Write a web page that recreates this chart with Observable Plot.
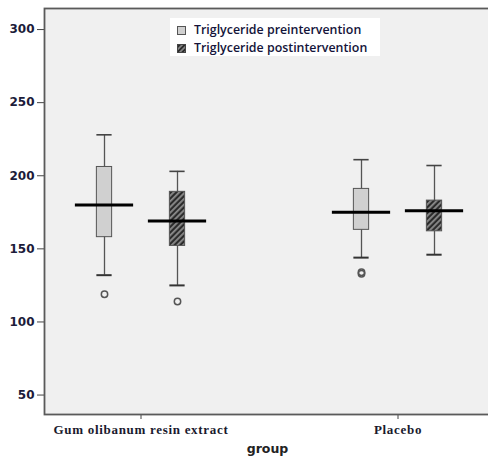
<!DOCTYPE html>
<html>
<head>
<meta charset="utf-8">
<script src="https://cdn.jsdelivr.net/npm/d3@7"></script>
<script src="https://cdn.jsdelivr.net/npm/@observablehq/plot@0.6"></script>
<style>
  html, body { margin: 0; padding: 0; background: #fff; overflow: hidden; }
  #wrap { position: relative; width: 488px; height: 460px; }
  #chart svg { display: block; overflow: hidden; }
  #chart [aria-label="x-axis tick label"] text { letter-spacing: 0.7px; }
  #legend { position: absolute; left: 170px; top: 18px; width: 210px; height: 38px; background: #fff;
            font-family: "Open Sans", sans-serif; font-size: 12.4px; font-weight: 600; color: #14143a; }
  .item { position: absolute; left: 7px; height: 14px; line-height: 14px; white-space: nowrap; }
  .item svg { position: absolute; left: 0; top: 3px; }
  .item span { position: absolute; left: 17px; top: 0; }
</style>
</head>
<body>
<div id="wrap">
  <div id="chart"></div>
  <div id="legend">
    <div class="item" style="top:5px">
      <svg width="9" height="9"><rect x="0.5" y="0.5" width="8" height="8" fill="#d0d0d0" stroke="#555"/></svg>
      <span>Triglyceride preintervention</span>
    </div>
    <div class="item" style="top:23px">
      <svg width="9" height="9">
        <defs><pattern id="hatchL" width="3.5" height="3.5" patternUnits="userSpaceOnUse" patternTransform="rotate(45)">
          <rect width="3.5" height="3.5" fill="#2b2b2b"/><rect width="1.6" height="3.5" fill="#8c8c8c"/></pattern></defs>
        <rect x="0.5" y="0.5" width="8" height="8" fill="url(#hatchL)" stroke="#444"/></svg>
      <span>Triglyceride postintervention</span>
    </div>
  </div>
</div>
<script>
// ---- data ----
const groups = ["Gum olibanum resin extract", "Placebo"];
const phases = ["Triglyceride preintervention", "Triglyceride postintervention"];

const preLow    = [132, 144];
const preQ1     = [158, 163];
const preMedian = [180, 175];
const preQ3     = [206, 191];
const preHigh   = [228, 211];

const postLow    = [125, 146];
const postQ1     = [152, 162];
const postMedian = [169, 176];
const postQ3     = [189, 183];
const postHigh   = [203, 207];

const outlierGroup = ["Gum olibanum resin extract", "Gum olibanum resin extract", "Placebo", "Placebo"];
const outlierPhase = ["Triglyceride preintervention", "Triglyceride postintervention", "Triglyceride preintervention", "Triglyceride preintervention"];
const outlierValue = [119, 114, 133, 134];

const yTicks = [50, 100, 150, 200, 250, 300];

// ---- tables ----
const stats = {
  [phases[0]]: groups.map((g, i) => ({group: g, lo: preLow[i], q1: preQ1[i], med: preMedian[i], q3: preQ3[i], hi: preHigh[i]})),
  [phases[1]]: groups.map((g, i) => ({group: g, lo: postLow[i], q1: postQ1[i], med: postMedian[i], q3: postQ3[i], hi: postHigh[i]}))
};
const outliers = outlierValue.map((v, i) => ({group: outlierGroup[i], phase: outlierPhase[i], value: v}));

// ---- styles ----
const offset = {[phases[0]]: -36.5, [phases[1]]: 36.5};
const fills = {[phases[0]]: "#d0d0d0", [phases[1]]: "url(#hatch)"};
const bw = 128.75;            // band width given the padding below
const boxInset = (bw - 15) / 2;
const medInset = (bw - 58) / 2;

const marks = [
  Plot.frame({fill: "#f0f0f0"}),
  Plot.axisY({ticks: yTicks, tickSize: 7, tickPadding: 3, stroke: "#444",
              fontFamily: "DejaVu Sans", fontWeight: "bold", fontSize: 12, fill: "#1c1c3a", label: null}),
  Plot.axisX({tickSize: 5, tickPadding: 5, stroke: "#444",
              fontFamily: "Liberation Serif", fontWeight: "bold", fontSize: 13, fill: "#1a1a2e", label: null}),
  Plot.text(["group"], {frameAnchor: "bottom", dy: 38, fontFamily: "DejaVu Sans", fontWeight: "bold", fontSize: 12.5, fill: "#222"})
];

for (const p of phases) {
  const d = stats[p];
  const dx = offset[p];
  marks.push(
    Plot.ruleX(d, {x: "group", y1: "lo", y2: "hi", dx, stroke: "#555", strokeWidth: 1.3}),
    Plot.tickY(d, {x: "group", y: "lo", dx, insetLeft: boxInset, insetRight: boxInset, stroke: "#333", strokeWidth: 2}),
    Plot.tickY(d, {x: "group", y: "hi", dx, insetLeft: boxInset, insetRight: boxInset, stroke: "#444", strokeWidth: 1.6}),
    Plot.barY(d, {x: "group", y1: "q1", y2: "q3", dx, insetLeft: boxInset, insetRight: boxInset,
                  fill: fills[p], stroke: "#555", strokeWidth: 1}),
    Plot.tickY(d, {x: "group", y: "med", dx, insetLeft: medInset, insetRight: medInset, stroke: "#000", strokeWidth: 3}),
    Plot.dot(outliers.filter(o => o.phase === p), {x: "group", y: "value", dx, r: 3.2, stroke: "#555", strokeWidth: 1.5, fill: "none"})
  );
}
marks.push(Plot.frame({stroke: "#5a5a5a", strokeWidth: 1.8}));

const chart = Plot.plot({
  width: 488,
  height: 460,
  marginLeft: 44,
  marginRight: -2,
  marginTop: 8,
  marginBottom: 46,
  style: {background: "transparent"},
  x: {type: "band", domain: groups, paddingInner: 0.5, paddingOuter: 0.116, align: 0.521, axis: null},
  y: {domain: [36.7, 314.4], axis: null},
  marks
});

chart.insertAdjacentHTML("afterbegin",
  '<defs><pattern id="hatch" width="4" height="4" patternUnits="userSpaceOnUse" patternTransform="rotate(45)">' +
  '<rect width="4" height="4" fill="#2b2b2b"/><rect width="1.8" height="4" fill="#8c8c8c"/></pattern></defs>');

document.getElementById("chart").appendChild(chart);
</script>
</body>
</html>
